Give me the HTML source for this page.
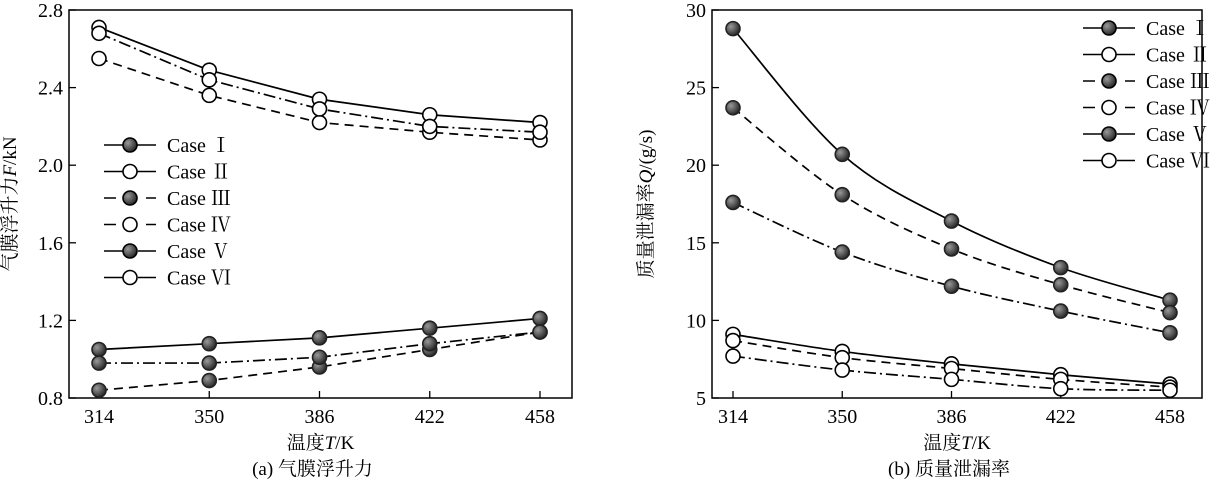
<!DOCTYPE html>
<html><head><meta charset="utf-8"><style>
body{margin:0;background:#fff;}
svg{display:block;font-family:"Liberation Serif","Noto Serif CJK SC",serif;}
</style></head><body>
<svg id="s" width="1222" height="491" viewBox="0 0 1222 491">
<defs><radialGradient id="g" cx="0.35" cy="0.35" r="0.7"><stop offset="0" stop-color="#999"/><stop offset="1" stop-color="#222"/></radialGradient></defs>
</svg>
<script>
const temps=[314,350,386,422,458];
const leftTicks=[0.8,1.2,1.6,2.0,2.4,2.8];
const rightTicks=[5,10,15,20,25,30];
const liftI=[1.05,1.08,1.11,1.16,1.21];
const liftII=[2.71,2.49,2.34,2.26,2.22];
const liftIII=[0.84,0.89,0.96,1.05,1.14];
const liftIV=[2.55,2.36,2.22,2.17,2.13];
const liftV=[0.98,0.98,1.01,1.08,1.14];
const liftVI=[2.68,2.44,2.29,2.20,2.17];
const leakI=[28.8,20.7,16.4,13.4,11.3];
const leakII=[9.1,8.0,7.2,6.5,5.9];
const leakIII=[23.7,18.1,14.6,12.3,10.5];
const leakIV=[8.7,7.6,6.9,6.2,5.7];
const leakV=[17.6,14.4,12.2,10.6,9.2];
const leakVI=[7.7,6.8,6.2,5.6,5.5];
const caseNames=["Case Ⅰ","Case Ⅱ","Case Ⅲ","Case Ⅳ","Case Ⅴ","Case Ⅵ"];
const svg=document.getElementById('s');
const NS='http://www.w3.org/2000/svg';
function mk(t,a,p){const e=document.createElementNS(NS,t);for(const k in a)e.setAttribute(k,a[k]);(p||svg).appendChild(e);return e;}
const dashes=['none','none','9,6','9,6','12,4,2,4','12,4,2,4'];
const filled=[true,false,true,false,true,false];
function panel(px0,px1,py0,py1,ymin,ymax,ticks,series,smooth,name,ylabel,caption,legX,legY,dec,inL,ylx){
  const g=mk('g',{});
  
  
  const x0=px0+inL,x1=px1-32;
  const X=t=>x0+(t-temps[0])/(temps[temps.length-1]-temps[0])*(x1-x0);
  const Y=v=>py1-(v-ymin)/(ymax-ymin)*(py1-py0);
  const fr=mk('rect',{x:px0,y:py0,width:px1-px0,height:py1-py0,fill:'none',stroke:'#000','stroke-width':1.5},g);
  
  
  ticks.forEach(v=>{
    mk('line',{x1:px0,x2:px0+7,y1:Y(v),y2:Y(v),stroke:'#000','stroke-width':1.3},g);
    const t=mk('text',{x:px0-6,y:Y(v)+7,'text-anchor':'end','font-size':20},g);t.textContent=v.toFixed(dec);
    
    
  });
  temps.forEach(v=>{
    mk('line',{x1:X(v),x2:X(v),y1:py1,y2:py1-7,stroke:'#000','stroke-width':1.3},g);
    const t=mk('text',{x:X(v),y:py1+25,'text-anchor':'middle','font-size':20},g);t.textContent=v;
    
    
  });
  const xl=mk('text',{x:(px0+px1)/2,y:py1+51,'text-anchor':'middle','font-size':19},g);
  xl.innerHTML='温度<tspan font-style="italic">T</tspan>/K';
  
  
  const yl=mk('text',{transform:`translate(${ylx},${(py0+py1)/2}) rotate(-90)`,'text-anchor':'middle','font-size':19},g);
  yl.innerHTML=ylabel;
  
  
  const cp=mk('text',{x:(px0+px1)/2-8,y:py1+77,'text-anchor':'middle','font-size':19},g);
  cp.textContent=caption;
  
  
  series.forEach((d,i)=>{
    const pts=d.map((v,j)=>[X(temps[j]),Y(v)]);
    let p='M'+pts[0].join(',');
    if(smooth){for(let j=0;j<pts.length-1;j++){const a=pts[j-1]||pts[j],b=pts[j],c=pts[j+1],e=pts[j+2]||c;
      p+=` C${b[0]+(c[0]-a[0])/6},${b[1]+(c[1]-a[1])/6} ${c[0]-(e[0]-b[0])/6},${c[1]-(e[1]-b[1])/6} ${c[0]},${c[1]}`;}}
    else pts.slice(1).forEach(q=>p+=' L'+q.join(','));
    const l=mk('path',{d:p,fill:'none',stroke:'#000','stroke-width':1.7,'stroke-dasharray':dashes[i]},g);
    
    
    pts.forEach(q=>{const c=mk('circle',{cx:q[0],cy:q[1],r:7,fill:filled[i]?'url(#g)':'#fff',stroke:filled[i]?'#222':'#000','stroke-width':1.6},g);
      
      });
  });
  caseNames.forEach((n,i)=>{
    const yy=legY+i*26.5;
    const lg=mk('g',{},g);
    
    
    mk('line',{x1:legX,x2:legX+52,y1:yy,y2:yy,stroke:'#000','stroke-width':1.6,'stroke-dasharray':i>=4?'26,8,20':(i>=2?'12,9':'none')},lg);
    mk('circle',{cx:legX+26,cy:yy,r:7,fill:filled[i]?'url(#g)':'#fff',stroke:'#000','stroke-width':1.6},lg);
    const t=mk('text',{x:legX+63,y:yy+7,'font-size':20},lg);t.textContent=n;
  });
}
panel(69,572,10,398,0.8,2.8,leftTicks,[liftI,liftII,liftIII,liftIV,liftV,liftVI],false,'lift-force-chart','气膜浮升力<tspan font-style="italic">F</tspan>/kN','(a) 气膜浮升力',104,145,1,30,16);
panel(712,1202,10,398,5,30,rightTicks,[leakI,leakII,leakIII,leakIV,leakV,leakVI],true,'leakage-rate-chart','质量泄漏率<tspan font-style="italic">Q</tspan>/(g/s)','(b) 质量泄漏率',1083,28,0,21,652);
</script>
</body></html>
